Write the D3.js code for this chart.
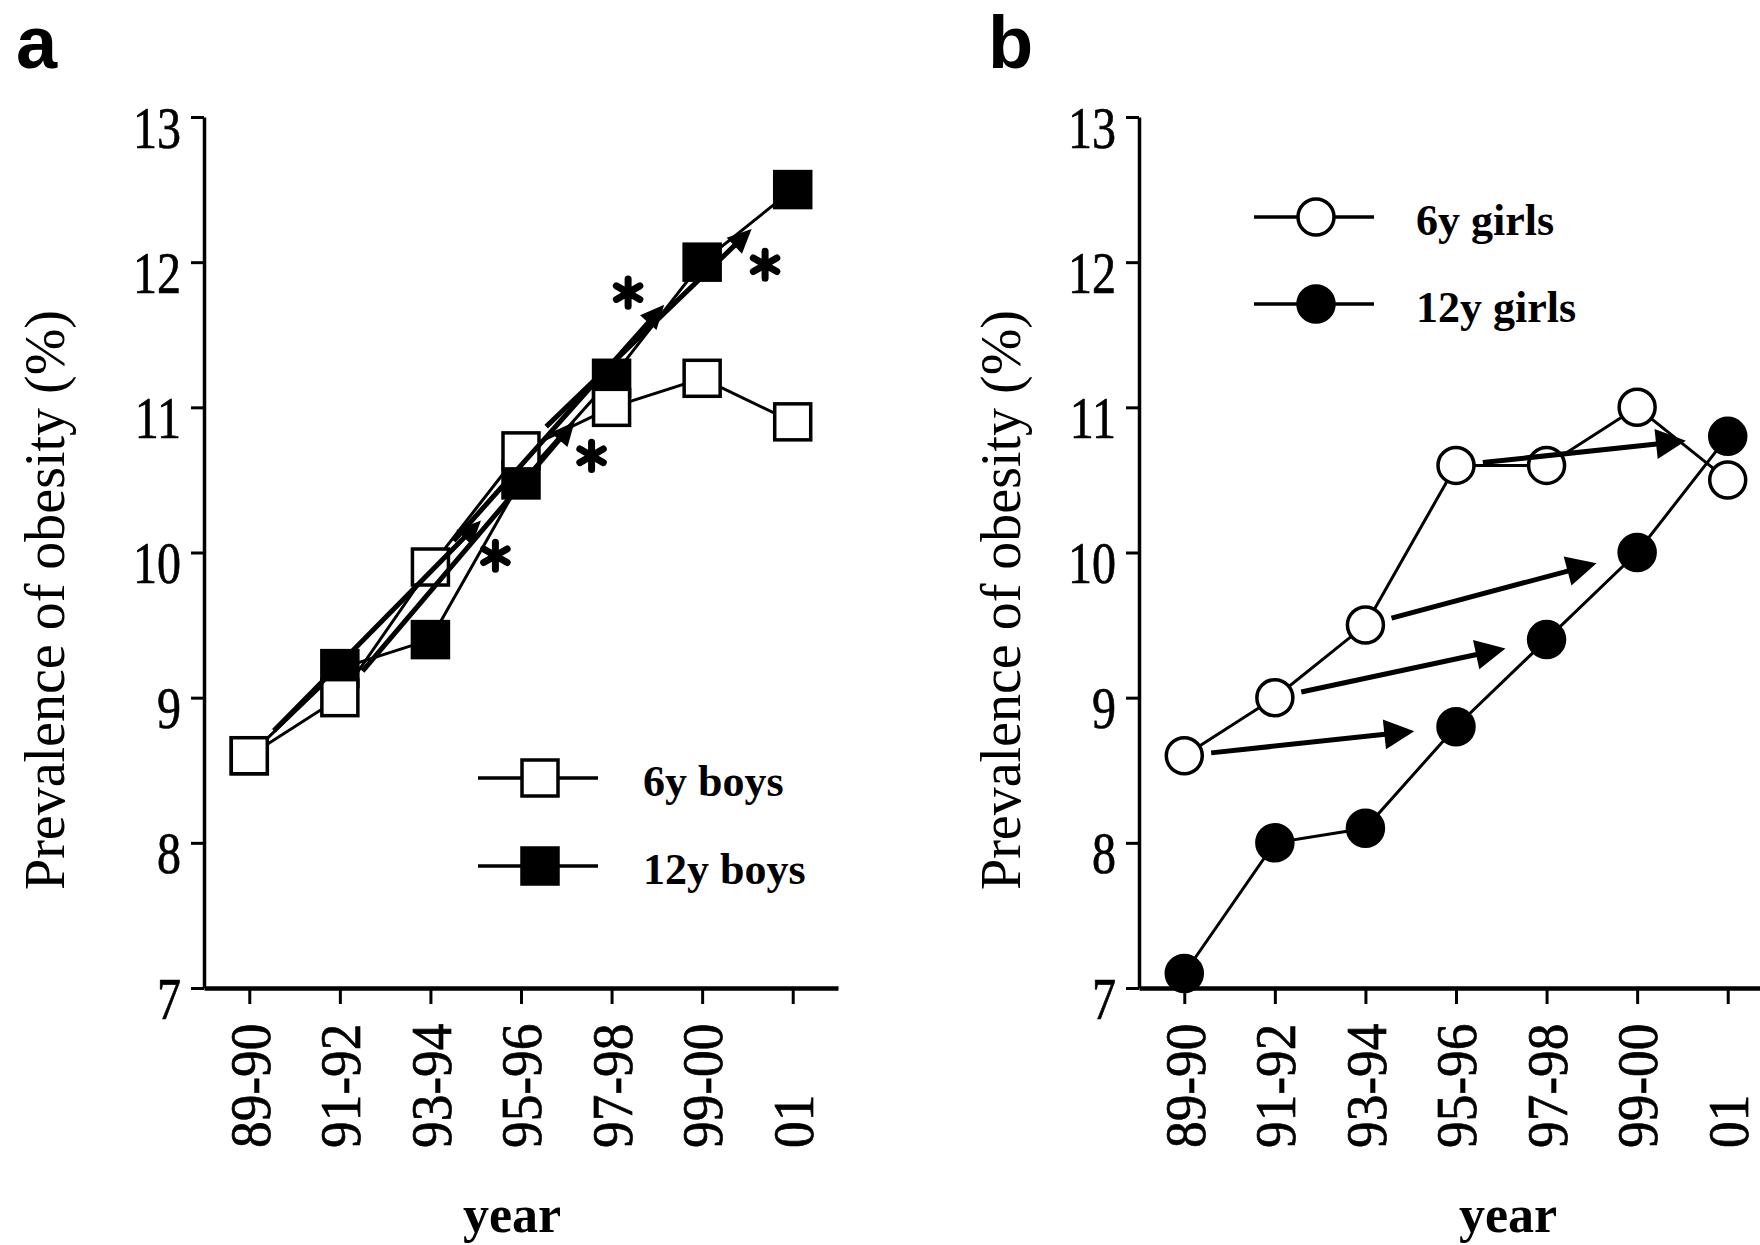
<!DOCTYPE html>
<html>
<head>
<meta charset="utf-8">
<script src="https://cdn.jsdelivr.net/npm/d3@7"></script>
<style>
  body { margin: 0; background: #fff; }
  svg { display: block; }
</style>
</head>
<body>
<div id="chart"></div>
<script>
const years = ["89-90", "91-92", "93-94", "95-96", "97-98", "99-00", "01"];
const yTicks = [7, 8, 9, 10, 11, 12, 13];

const boys6 = [8.6, 9.0, 9.9, 10.7, 11.0, 11.2, 10.9];
const boys12 = [8.6, 9.2, 9.4, 10.5, 11.2, 12.0, 12.5];
const girls6 = [8.6, 9.0, 9.5, 10.6, 10.6, 11.0, 10.5];
const girls12 = [7.1, 8.0, 8.1, 8.8, 9.4, 10.0, 10.8];

// cohort arrows: 6y value of year i -> 12y value six years later (index i + 3)
const cohortFrom = [0, 1, 2, 3];
const cohortLag = 3;
// which side of each boys arrow carries the asterisk (1 = lower right, -1 = upper left)
const boysStarSide = [1, 1, -1, 1];

const W = 1760, H = 1245;
const plotTop = 117, plotBottom = 988, axisLen = 634;
const serif = "'Liberation Serif', 'Times New Roman', serif";
const sans = "'Liberation Sans', Arial, sans-serif";

const svg = d3.select("#chart").append("svg")
  .attr("width", W)
  .attr("height", H)
  .attr("viewBox", [0, 0, W, H]);

function marker(sel, shape, filled, cx, cy) {
  if (shape === "square") {
    sel.append("rect")
      .attr("x", cx - 18).attr("y", cy - 18)
      .attr("width", 36).attr("height", 36)
      .attr("fill", filled ? "#000" : "#fff")
      .attr("stroke", "#000").attr("stroke-width", 3.5);
  } else {
    sel.append("circle")
      .attr("cx", cx).attr("cy", cy).attr("r", 18)
      .attr("fill", filled ? "#000" : "#fff")
      .attr("stroke", "#000").attr("stroke-width", 3.5);
  }
}

function drawPanel(p) {
  const g = svg.append("g");

  const x = d3.scalePoint().domain(years).range([p.ox, p.ox + axisLen]).padding(0.5);
  const y = d3.scaleLinear().domain([7, 13]).range([plotBottom, plotTop]);

  // y axis
  const yAxis = g.append("g")
    .attr("transform", `translate(${p.ox},0)`)
    .call(d3.axisLeft(y).tickValues(yTicks).tickSize(13).tickSizeOuter(0).tickFormat(d3.format("d")))
    .attr("font-family", serif)
    .attr("font-size", 60);
  yAxis.select(".domain").attr("stroke-width", 3.5);
  yAxis.selectAll(".tick line").attr("stroke-width", 3);
  yAxis.selectAll(".tick text")
    .attr("x", null).attr("dy", null)
    .attr("fill", "#000")
    .attr("stroke", "#000").attr("stroke-width", 0.7)
    .attr("transform", "translate(-23,30) scale(0.8,1)");

  // x axis
  const xAxis = g.append("g")
    .attr("transform", `translate(0,${plotBottom})`)
    .call(d3.axisBottom(x).tickSize(16).tickSizeOuter(0))
    .attr("font-family", serif)
    .attr("font-size", 58);
  xAxis.select(".domain").attr("stroke-width", 4.5);
  xAxis.selectAll(".tick line").attr("stroke-width", 3);
  xAxis.selectAll(".tick text")
    .attr("y", null).attr("dy", "0.34em")
    .attr("text-anchor", "start")
    .attr("fill", "#000")
    .attr("stroke", "#000").attr("stroke-width", 0.7)
    .attr("transform", "translate(0,160) rotate(-90) scale(0.92,1)");

  // titles
  g.append("text")
    .attr("transform", `translate(${p.titleX},600) rotate(-90)`)
    .attr("text-anchor", "middle")
    .attr("font-family", serif).attr("font-size", 56)
    .text("Prevalence of obesity (%)");

  g.append("text")
    .attr("x", p.yearX).attr("y", 1232)
    .attr("text-anchor", "middle")
    .attr("font-family", serif).attr("font-size", 52).attr("font-weight", "bold")
    .text("year");

  g.append("text")
    .attr("x", p.letterX).attr("y", 68)
    .attr("font-family", sans).attr("font-size", 74).attr("font-weight", "bold")
    .text(p.letter);

  // series lines
  const line = d3.line().x((d, i) => x(years[i])).y(d => y(d));
  [p.old, p.young].forEach(vals => {
    g.append("path")
      .attr("d", line(vals))
      .attr("fill", "none")
      .attr("stroke", "#000")
      .attr("stroke-width", 3);
  });

  // markers: filled first, open on top
  p.old.forEach((v, i) => marker(g, p.shape, true, x(years[i]), y(v)));
  p.young.forEach((v, i) => marker(g, p.shape, false, x(years[i]), y(v)));

  // cohort arrows
  cohortFrom.forEach((i, k) => {
    const x0 = x(years[i]), y0 = y(p.young[i]);
    const x1 = x(years[i + cohortLag]), y1 = y(p.old[i + cohortLag]);
    const len = Math.hypot(x1 - x0, y1 - y0);
    const ux = (x1 - x0) / len, uy = (y1 - y0) / len;
    const sx = x0 + ux * p.gap[0], sy = y0 + uy * p.gap[0];
    const tx = x1 - ux * p.gap[1], ty = y1 - uy * p.gap[1];
    const bx = tx - ux * p.head, by = ty - uy * p.head;
    g.append("line")
      .attr("x1", sx).attr("y1", sy)
      .attr("x2", bx + ux * 3).attr("y2", by + uy * 3)
      .attr("stroke", "#000").attr("stroke-width", 5);
    g.append("polygon")
      .attr("points", [[tx, ty], [bx - uy * p.headW, by + ux * p.headW], [bx + uy * p.headW, by - ux * p.headW]].join(" "))
      .attr("fill", "#000");
    if (p.stars) {
      const side = p.stars[k];
      const ax = tx - ux * 15 + (-uy) * 35 * side;
      const ay = ty - uy * 15 + ux * 35 * side;
      g.append("path")
        .attr("d", d3.symbol(d3.symbolAsterisk, 520)())
        .attr("transform", `translate(${ax},${ay})`)
        .attr("fill", "none")
        .attr("stroke", "#000")
        .attr("stroke-width", 7)
        .attr("stroke-linecap", "round");
    }
  });

  // legend
  const legend = [
    { label: p.names[0], filled: false },
    { label: p.names[1], filled: true }
  ];
  legend.forEach((d, i) => {
    const ly = p.legendY[i];
    g.append("line")
      .attr("x1", p.legendX[0]).attr("x2", p.legendX[1])
      .attr("y1", ly).attr("y2", ly)
      .attr("stroke", "#000").attr("stroke-width", 3.5);
    marker(g, p.shape, d.filled, (p.legendX[0] + p.legendX[1]) / 2 + 2, ly);
    g.append("text")
      .attr("x", p.legendTextX).attr("y", ly + 18)
      .attr("font-family", serif).attr("font-size", 44).attr("font-weight", "bold")
      .text(d.label);
  });
}

drawPanel({
  ox: 204, letter: "a", letterX: 16, titleX: 64, yearX: 512,
  shape: "square", young: boys6, old: boys12, names: ["6y boys", "12y boys"],
  gap: [35, 57], head: 24, headW: 11, stars: boysStarSide,
  legendX: [478, 598], legendY: [778, 866], legendTextX: 643
});

drawPanel({
  ox: 1139, letter: "b", letterX: 988, titleX: 1020, yearX: 1508,
  shape: "circle", young: girls6, old: girls12, names: ["6y girls", "12y girls"],
  gap: [27, 42], head: 30, headW: 15, stars: null,
  legendX: [1254, 1374], legendY: [217, 304], legendTextX: 1416
});
</script>
</body>
</html>
